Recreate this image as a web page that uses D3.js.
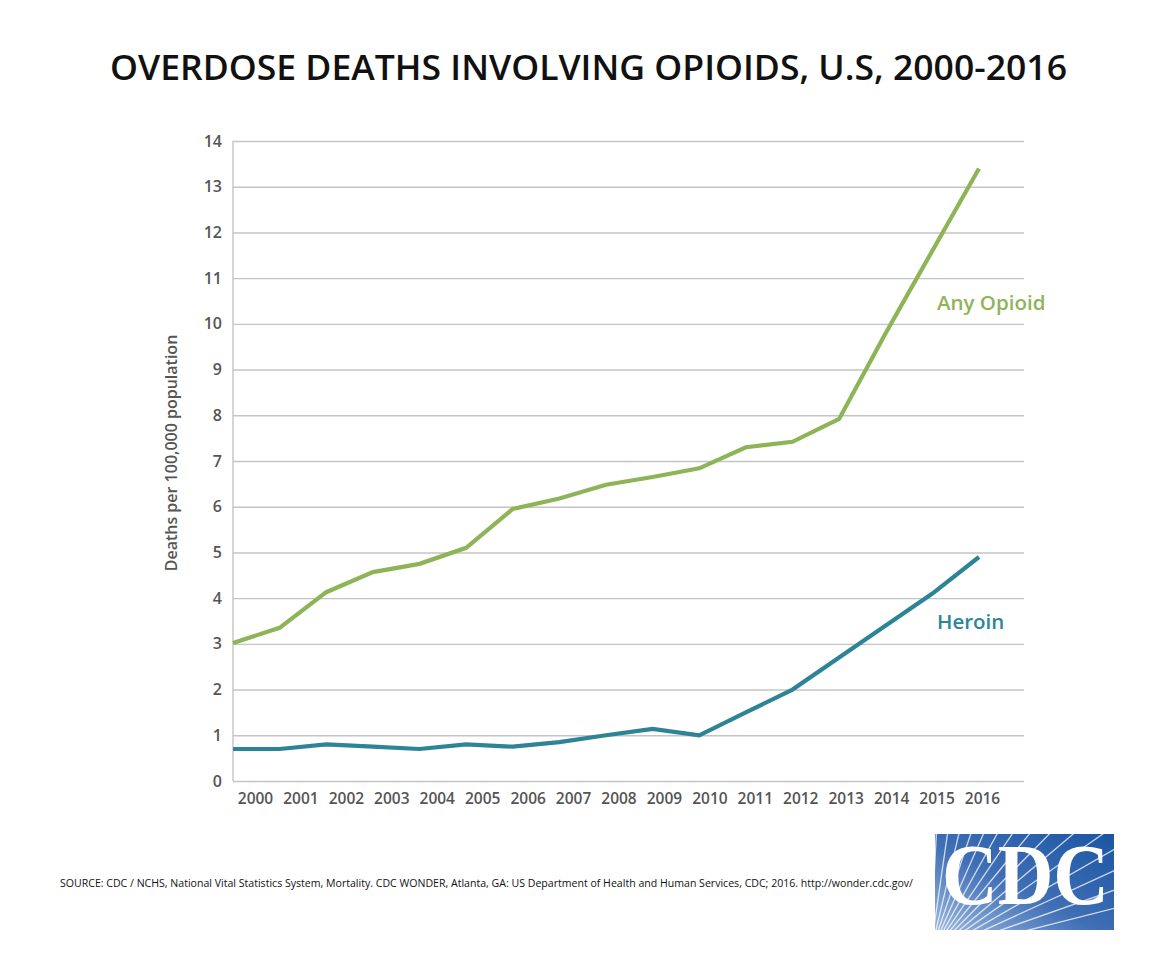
<!DOCTYPE html>
<html><head><meta charset="utf-8">
<script src="https://cdn.jsdelivr.net/npm/d3@7"></script>
<style>
body{margin:0;background:#fff;}
svg{display:block;font-family:"Open Sans",sans-serif;}
</style></head>
<body><svg id="c" width="1176" height="960"></svg>
<script>
const years = [2000,2001,2002,2003,2004,2005,2006,2007,2008,2009,2010,2011,2012,2013,2014,2015,2016];
const anyOpioid = [3.02,3.35,4.13,4.57,4.75,5.1,5.95,6.18,6.48,6.65,6.84,7.3,7.42,7.92,9.8,11.6,13.4];
const heroin = [0.7,0.7,0.8,0.75,0.7,0.8,0.75,0.85,1.0,1.14,1.0,1.5,2.0,2.7,3.4,4.1,4.9];
const yTicks = [0,1,2,3,4,5,6,7,8,9,10,11,12,13,14];
const title = "OVERDOSE DEATHS INVOLVING OPIOIDS, U.S, 2000-2016";
const yTitle = "Deaths per 100,000 population";
const source = "SOURCE: CDC / NCHS, National Vital Statistics System, Mortality. CDC WONDER, Atlanta, GA: US Department of Health and Human Services, CDC; 2016. http://wonder.cdc.gov/";

const svg = d3.select("#c");
const L=233, R=1024, T=141, B=781;
const y = d3.scaleLinear().domain([0,14]).range([B,T]);
const xLine = d3.scaleLinear().domain([2000,2016]).range([L,979]);
const xLab = d3.scaleLinear().domain([2000,2016]).range([255,982]);

svg.append("text").attr("x",588.5).attr("y",80).attr("text-anchor","middle")
  .attr("font-size",35).attr("font-weight",600).attr("fill","#111")
  .attr("textLength",957).attr("lengthAdjust","spacingAndGlyphs").text(title);

// grid
const yAxis = d3.axisLeft(y).tickValues(yTicks).tickSize(-(R-L)).tickPadding(11).tickFormat(d3.format("d"));
const gy = svg.append("g").attr("transform",`translate(${L},0)`).call(yAxis);
gy.select(".domain").remove();
gy.selectAll(".tick line").attr("stroke","#c4c4c4").attr("stroke-width",1.4);
gy.selectAll(".tick text").attr("font-size",16).attr("font-weight",600).attr("fill","#555").attr("font-family","Open Sans");
svg.append("line").attr("x1",L).attr("x2",L).attr("y1",T).attr("y2",B).attr("stroke","#c4c4c4").attr("stroke-width",1.4);

const xAxis = d3.axisBottom(xLab).tickValues(years).tickSize(0).tickPadding(12).tickFormat(d3.format("d"));
const gx = svg.append("g").attr("transform",`translate(0,${B})`).call(xAxis);
gx.select(".domain").remove();
gx.selectAll(".tick text").attr("font-size",15.5).attr("font-weight",600).attr("fill","#555").attr("font-family","Open Sans");

svg.append("text").attr("transform",`translate(177,453) rotate(-90)`).attr("text-anchor","middle")
  .attr("font-size",16).attr("font-weight",600).attr("fill","#555").text(yTitle);

const line = d3.line().x((d,i)=>xLine(years[i])).y(d=>y(d));
svg.append("path").datum(anyOpioid).attr("d",line).attr("fill","none").attr("stroke","#8db557").attr("stroke-width",4.2).attr("stroke-linejoin","miter");
svg.append("path").datum(heroin).attr("d",line).attr("fill","none").attr("stroke","#2d8497").attr("stroke-width",4.2);

svg.append("text").attr("x",937).attr("y",310).attr("font-size",20.5).attr("font-weight",600).attr("fill","#8db557").text("Any Opioid");
svg.append("text").attr("x",937).attr("y",629).attr("font-size",20.5).attr("font-weight",600).attr("fill","#2d8497").text("Heroin");

svg.append("text").attr("x",60).attr("y",887).attr("font-size",11).attr("fill","#111")
  .attr("textLength",853).attr("lengthAdjust","spacingAndGlyphs").text(source);

// CDC logo
const lx=935, ly=834, lw=179, lh=96;
const defs = svg.append("defs");
const grad = defs.append("linearGradient").attr("id","lg").attr("x1","0").attr("y1","1").attr("x2","1").attr("y2","0");
grad.append("stop").attr("offset","0").attr("stop-color","#9bb7dd");
grad.append("stop").attr("offset","0.45").attr("stop-color","#3f6fb5");
grad.append("stop").attr("offset","1").attr("stop-color","#1c55a3");
defs.append("clipPath").attr("id","lc").append("rect").attr("x",lx).attr("y",ly).attr("width",lw).attr("height",lh);
svg.append("rect").attr("x",lx).attr("y",ly).attr("width",lw).attr("height",lh).attr("fill","url(#lg)");
const rays = svg.append("g").attr("clip-path","url(#lc)");
const ox=lx-5, oy=ly+lh+25;
const angles = d3.range(15).map(i=>-87 + i*5.2);
rays.selectAll("line").data(angles).join("line")
  .attr("x1",ox).attr("y1",oy)
  .attr("x2",a=>ox+400*Math.cos(a*Math.PI/180)).attr("y2",a=>oy+400*Math.sin(a*Math.PI/180))
  .attr("stroke","#fff").attr("stroke-opacity",0.75).attr("stroke-width",1.3);
svg.append("text").attr("x",lx+lw/2+1).attr("y",ly+70).attr("text-anchor","middle")
  .attr("font-family","Liberation Serif, serif").attr("font-weight",700).attr("font-size",86)
  .attr("textLength",167).attr("lengthAdjust","spacingAndGlyphs")
  .attr("fill","#fff").text("CDC");
</script></body></html>
